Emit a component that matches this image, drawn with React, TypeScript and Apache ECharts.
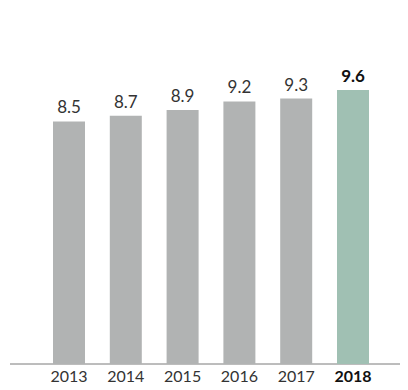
import React, { useEffect, useRef } from "react";
import * as echarts from "echarts";

const years = ["2013", "2014", "2015", "2016", "2017", "2018"];
const values = [8.5, 8.7, 8.9, 9.2, 9.3, 9.6];
const subtitle = "(millions of short tons)";

export default function App() {
  const ref = useRef<HTMLDivElement>(null);
  useEffect(() => {
    const chart = echarts.init(ref.current!, null, { renderer: "svg" });
    const last = years.length - 1;
    chart.setOption({
      animation: false,
      grid: { left: 40.6, right: 26.6, top: 21.5, bottom: 26 },
      graphic: [
        {
          type: "text",
          x: 12,
          y: 6,
          style: {
            text: subtitle,
            fontSize: 14,
            fill: "#777",
            fontFamily: "Lato",
            verticalAlign: "bottom",
          },
        },
        {
          type: "line",
          shape: { x1: 10, y1: 364, x2: 403, y2: 364 },
          style: { stroke: "#7a7a7a", lineWidth: 1 },
        },
      ],
      xAxis: {
        type: "category",
        data: years,
        axisLine: { show: false },
        axisTick: { show: false },
        axisLabel: {
          interval: 0,
          margin: 3,
          fontSize: 16,
          fontFamily: "Lato",
          color: "#333",
          formatter: (v: string) => (v === years[last] ? "{b|" + v + "}" : v),
          rich: { b: { fontWeight: "bold", fontSize: 16, fontFamily: "Lato", color: "#111" } },
        },
      },
      yAxis: { type: "value", min: 0, max: 12, show: false, splitLine: { show: false } },
      series: [
        {
          type: "bar",
          barWidth: 32,
          data: values.map((v, i) => ({
            value: v,
            itemStyle: { color: i === last ? "#a0c0b3" : "#b1b3b3" },
            label: i === last ? { fontWeight: "bold", color: "#111" } : undefined,
          })),
          label: {
            show: true,
            position: "top",
            distance: 6,
            fontSize: 17,
            fontFamily: "Lato",
            color: "#333",
          },
        },
      ],
    });
    return () => chart.dispose();
  }, []);
  return <div ref={ref} style={{ width: 408, height: 390, marginLeft: -8, marginTop: -8 }} />;
}
